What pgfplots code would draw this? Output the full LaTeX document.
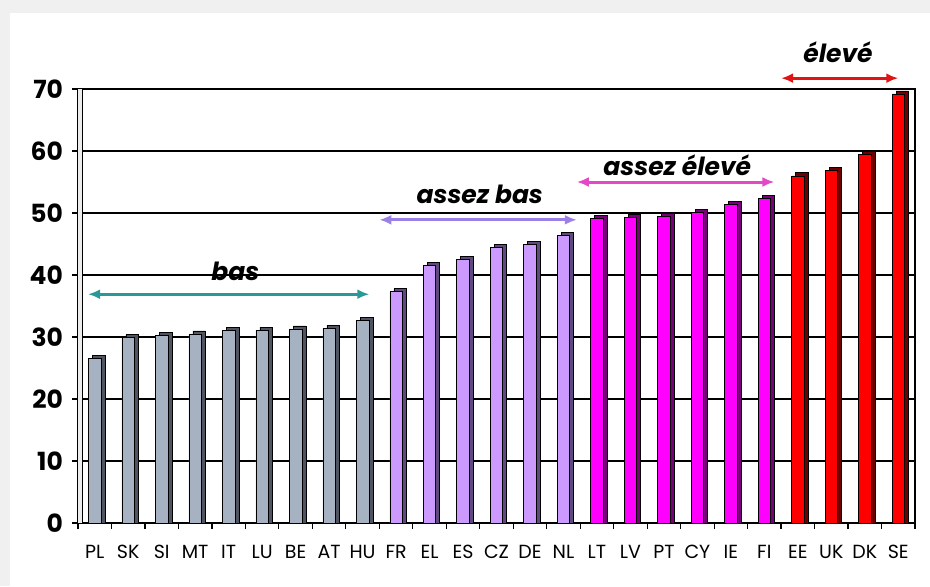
\documentclass[border=0pt]{standalone}
\usepackage{pgfplots}
\pgfplotsset{compat=1.18}
\usepackage{pgfplotstable}
\usepackage{fontspec}
\setmainfont{Poppins}
\usetikzlibrary{arrows.meta}

\definecolor{bggray}{RGB}{240,240,240}
\definecolor{greyfront}{RGB}{166,178,194}
\definecolor{greyside}{RGB}{80,84,96}
\definecolor{lavfront}{RGB}{204,153,255}
\definecolor{lavside}{RGB}{94,74,128}
\definecolor{magfront}{RGB}{255,0,255}
\definecolor{magside}{RGB}{120,0,120}
\definecolor{redfront}{RGB}{255,0,0}
\definecolor{redside}{RGB}{110,0,0}
\definecolor{arrteal}{RGB}{42,152,150}
\definecolor{arrlav}{RGB}{155,128,232}
\definecolor{arrmag}{RGB}{228,72,196}
\definecolor{arrred}{RGB}{225,20,20}

\pgfplotstableread{
x v
0 27.0
1 30.4
2 30.8
3 31.0
4 31.6
5 31.6
6 31.8
7 31.9
8 33.2
}\tabgrey
\pgfplotstableread{
x v
9 37.8
10 42.0
11 43.0
12 45.0
13 45.4
14 46.9
}\tablav
\pgfplotstableread{
x v
15 49.6
16 49.8
17 50.0
18 50.6
19 51.9
20 52.9
}\tabmag
\pgfplotstableread{
x v
21 56.5
22 57.4
23 60.0
24 69.7
}\tabred

\begin{document}
\begin{tikzpicture}[x=1pt,y=1pt]
\fill[bggray] (0,0) rectangle (465,293);
\fill[white] (5,0) rectangle (465,286.5);
\useasboundingbox (0,0) rectangle (465,293);
\begin{axis}[
  at={(39pt,31.5pt)}, anchor=south west,
  scale only axis, width=418.5pt, height=217pt,
  xmin=-0.5, xmax=24.5, ymin=0, ymax=70,
  clip=false,
  ybar, bar width=6.25pt,
  axis line style={black, line width=0.6pt},
  ymajorgrids, grid style={black, line width=0.6pt},
  ytick={0,10,...,70},
  xtick={0,...,24},
  xticklabels={PL,SK,SI,MT,IT,LU,BE,AT,HU,FR,EL,ES,CZ,DE,NL,LT,LV,PT,CY,IE,FI,EE,UK,DK,SE},
  minor xtick={-0.5,0.5,...,24.5},
  major x tick style={draw=none},
  minor tick length=3pt,
  major tick length=3pt,
  tick align=outside,
  xtick pos=lower, ytick pos=left,
  tick style={black, line width=0.6pt},
  /pgf/number format/assume math mode=true,
  yticklabel style={font=\bfseries\fontsize{12.5}{14}\selectfont, xshift=-1pt},
  xticklabel style={font=\fontsize{9.5}{11}\selectfont, yshift=-4.5pt},
]
\fill[gray!15] (axis cs:-0.5,0) rectangle (axis cs:-0.36,70);
\draw[black, line width=0.4pt] (axis cs:-0.36,0) -- (axis cs:-0.36,70);

\addplot[fill=greyside, draw=black, line width=0.3pt, bar shift=2pt] table[x=x, y=v] {\tabgrey};
\addplot[fill=greyfront, draw=black, line width=0.3pt, bar shift=0pt] table[x=x, y expr=\thisrow{v}-0.5] {\tabgrey};
\addplot[fill=lavside, draw=black, line width=0.3pt, bar shift=2pt] table[x=x, y=v] {\tablav};
\addplot[fill=lavfront, draw=black, line width=0.3pt, bar shift=0pt] table[x=x, y expr=\thisrow{v}-0.5] {\tablav};
\addplot[fill=magside, draw=black, line width=0.3pt, bar shift=2pt] table[x=x, y=v] {\tabmag};
\addplot[fill=magfront, draw=black, line width=0.3pt, bar shift=0pt] table[x=x, y expr=\thisrow{v}-0.5] {\tabmag};
\addplot[fill=redside, draw=black, line width=0.3pt, bar shift=2pt] table[x=x, y=v] {\tabred};
\addplot[fill=redfront, draw=black, line width=0.3pt, bar shift=0pt] table[x=x, y expr=\thisrow{v}-0.5] {\tabred};

\draw[arrteal, line width=1.5pt, {Latex[length=6pt,width=5pt]}-{Latex[length=6pt,width=5pt]}] (axis cs:-0.2,36.9) -- (axis cs:8.2,36.9);
\node[font=\bfseries\itshape\fontsize{12.5}{14}\selectfont] at (axis cs:4.2,40.6) {bas};
\draw[arrlav, line width=1.5pt, {Latex[length=6pt,width=5pt]}-{Latex[length=6pt,width=5pt]}] (axis cs:8.5,48.9) -- (axis cs:14.4,48.9);
\node[font=\bfseries\itshape\fontsize{12.5}{14}\selectfont] at (axis cs:11.5,53.0) {assez bas};
\draw[arrmag, line width=1.5pt, {Latex[length=6pt,width=5pt]}-{Latex[length=6pt,width=5pt]}] (axis cs:14.4,55.0) -- (axis cs:20.3,55.0);
\node[font=\bfseries\itshape\fontsize{12.5}{14}\selectfont] at (axis cs:17.4,57.7) {assez élevé};
\draw[arrred, line width=1.5pt, {Latex[length=6pt,width=5pt]}-{Latex[length=6pt,width=5pt]}] (axis cs:20.5,71.75) -- (axis cs:24.0,71.75);
\node[font=\bfseries\itshape\fontsize{12.5}{14}\selectfont] at (axis cs:22.2,76.0) {élevé};
\end{axis}
\end{tikzpicture}
\end{document}
